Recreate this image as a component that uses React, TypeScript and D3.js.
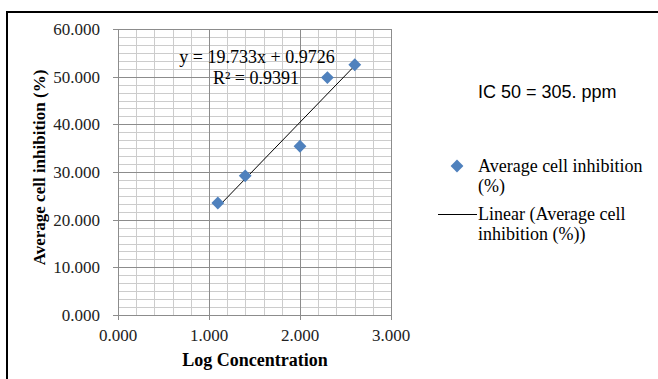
import React from "react";
import * as d3 from "d3";

// log concentration vs average inhibition
const logConc = [1.097, 1.398, 2.0, 2.301, 2.602];
const inhibition = [23.5, 29.2, 35.4, 49.8, 52.5];

const xTicks = [0, 1, 2, 3];
const yTicks = [0, 10, 20, 30, 40, 50, 60];

const slope = 19.733;
const intercept = 0.9726;
const eqLabel = "y = 19.733x + 0.9726";
const r2Label = "R² = 0.9391";
const icLabel = "IC 50 = 305. ppm";

const serif = "'Liberation Serif', 'Times New Roman', serif";
const sans = "'Liberation Sans', Arial, sans-serif";

export default function App() {
  const width = 658;
  const height = 379;

  const x = d3.scaleLinear().domain([0, 3]).range([118, 391]);
  const y = d3.scaleLinear().domain([0, 60]).range([315, 29]);

  const xMinor = d3.range(0, 3.0001, 0.2);
  const yMinor = d3.range(0, 60.0001, 10 / 6);

  const xMin = d3.min(logConc)!;
  const xMax = d3.max(logConc)!;

  const diamond = d3.symbol().type(d3.symbolSquare).size(82)()!;

  return (
    <div style={{ position: "fixed", left: 0, top: 0 }}>
      <svg width={width} height={height} style={{ display: "block", background: "#fff" }}>
        {/* frame */}
        <line x1={7} x2={658} y1={12} y2={12} stroke="#000" strokeWidth={2} />
        <line x1={7} x2={7} y1={11} y2={379} stroke="#000" strokeWidth={2} />

        {/* minor grid */}
        <g stroke="#cccccc" strokeWidth={1}>
          {xMinor.map((v, i) => (
            <line key={"xm" + i} x1={Math.round(x(v)) + 0.5} x2={Math.round(x(v)) + 0.5} y1={y(60)} y2={y(0)} />
          ))}
          {yMinor.map((v, i) => (
            <line key={"ym" + i} x1={x(0)} x2={x(3)} y1={Math.round(y(v)) + 0.5} y2={Math.round(y(v)) + 0.5} />
          ))}
        </g>

        {/* major grid */}
        <g stroke="#8c8c8c" strokeWidth={1}>
          {xTicks.map((v) => (
            <line key={"xM" + v} x1={Math.round(x(v)) + 0.5} x2={Math.round(x(v)) + 0.5} y1={y(60)} y2={y(0) + 5} />
          ))}
          {yTicks.map((v) => (
            <line key={"yM" + v} x1={x(0) - 5} x2={x(3)} y1={Math.round(y(v)) + 0.5} y2={Math.round(y(v)) + 0.5} />
          ))}
        </g>

        {/* tick labels */}
        <g fontFamily={serif} fontSize={17} fill="#222">
          {yTicks.map((v) => (
            <text key={"yl" + v} x={100} y={y(v)} dy="0.35em" textAnchor="end">
              {v.toFixed(3)}
            </text>
          ))}
          {xTicks.map((v) => (
            <text key={"xl" + v} x={x(v)} y={341} textAnchor="middle">
              {v.toFixed(3)}
            </text>
          ))}
        </g>

        {/* axis titles */}
        <text x={255} y={366} textAnchor="middle" fontFamily={serif} fontSize={18} fontWeight="bold">
          Log Concentration
        </text>
        <text
          transform={`translate(45,${(65 + 270) / 2}) rotate(-90)`}
          textAnchor="middle"
          fontFamily={serif}
          fontSize={17}
          fontWeight="bold"
        >
          Average cell inhibition (%)
        </text>

        {/* trendline */}
        <line
          x1={x(xMin)}
          y1={y(slope * xMin + intercept)}
          x2={x(xMax)}
          y2={y(slope * xMax + intercept)}
          stroke="#000"
          strokeWidth={1}
        />

        {/* points */}
        {logConc.map((v, i) => (
          <path
            key={"p" + i}
            d={diamond}
            transform={`translate(${x(v)},${y(inhibition[i])}) rotate(45)`}
            fill="#4F81BD"
          />
        ))}

        {/* equation */}
        <g fontFamily={serif} fontSize={18} fill="#000">
          <text x={257} y={63} textAnchor="middle">{eqLabel}</text>
          <text x={256} y={84} textAnchor="middle">{r2Label}</text>
        </g>

        {/* IC50 annotation */}
        <text x={478} y={98} fontFamily={sans} fontSize={18} fill="#000">
          {icLabel}
        </text>

        {/* legend */}
        <path d={diamond} transform="translate(457,166) rotate(45)" fill="#4F81BD" />
        <line x1={438} x2={477} y1={214.5} y2={214.5} stroke="#000" strokeWidth={1} />
        <g fontFamily={serif} fontSize={18} fill="#000">
          <text x={478} y={172}>Average cell inhibition</text>
          <text x={478} y={192}>(%)</text>
          <text x={478} y={220}>Linear (Average cell</text>
          <text x={478} y={240}>inhibition (%))</text>
        </g>
      </svg>
    </div>
  );
}
